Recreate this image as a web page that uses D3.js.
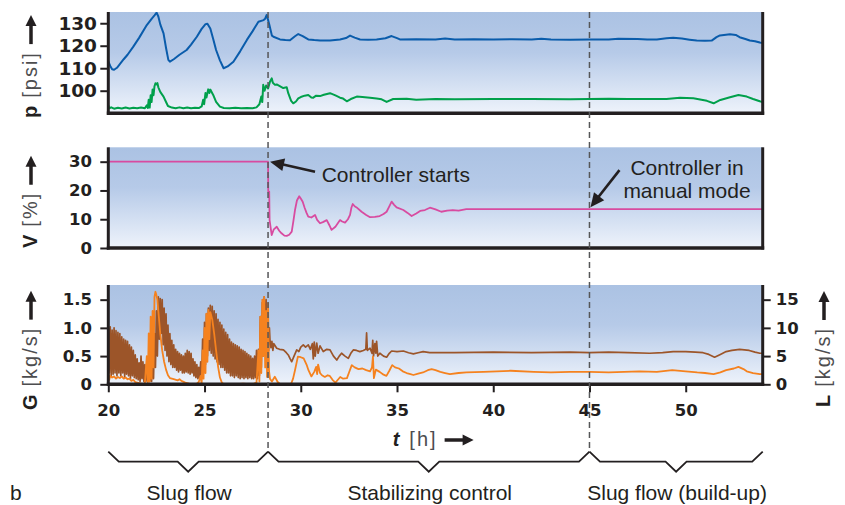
<!DOCTYPE html>
<html>
<head>
<meta charset="utf-8">
<script src="https://cdn.jsdelivr.net/npm/d3@7"></script>
<style>
  body { margin: 0; background: #fff; }
  svg { display: block; }
</style>
</head>
<body>
<svg id="chart" width="845" height="505"></svg>
<script>
// ---- data -------------------------------------------------------------
const timeTicks = [20, 25, 30, 35, 40, 45, 50];
const pressureTicks = [100, 110, 120, 130];
const valveTicks = [0, 10, 20, 30];
const gasTicks = [0, 0.5, 1.0, 1.5];
const gasTickLabels = ["0", "0.5", "1.0", "1.5"];
const liquidTicks = [0, 5, 10, 15];

const controllerStart = 28.3;   // h
const manualMode = 45;          // h

const phases = [
  { from: 20, to: controllerStart, label: "Slug flow" },
  { from: controllerStart, to: manualMode, label: "Stabilizing control" },
  { from: manualMode, to: 54, label: "Slug flow (build-up)" }
];

// upstream pressure [t (h), psi]
const pressureUpper = [
  [20.0,113],[20.1,111],[20.2,109.5],[20.3,109.3],[20.45,110.2],[20.6,111.8],[20.8,114],[21.0,116],
  [21.3,119.6],[21.6,123.5],[22.0,129.2],[22.27,132.2],[22.4,133.5],[22.51,134.7],[22.6,133],[22.7,129.5],
  [22.87,125.5],[23.0,119],[23.12,113.7],[23.2,112.9],[23.4,114],[23.7,116],[24.07,118.1],[24.3,120.5],
  [24.6,124],[24.85,127.5],[25.05,129.6],[25.15,129.8],[25.3,127.7],[25.45,123],[25.6,118.1],[25.8,113.5],
  [25.99,110.0],[26.2,110.8],[26.5,112.9],[26.85,117.5],[27.2,122.6],[27.5,126.5],[27.8,130.7],[28.07,131.4],
  [28.15,132],[28.23,133.7],[28.3,131.5],[28.37,129.2],[28.5,124.5],[28.58,124.0],[28.92,122.8],[29.2,122.5],
  [29.44,122.4],[29.7,124.2],[29.87,125.2],[30.1,124.3],[30.39,122.8],[30.7,122.5],[31.0,122.3],[31.52,122.3],
  [32.04,122.8],[32.35,123.4],[32.56,124.5],[32.8,123.6],[33.08,122.8],[33.5,122.7],[33.94,122.8],[34.4,123.3],
  [34.72,124.3],[35.0,123.4],[35.15,122.8],[36,122.9],[37,122.8],[37.5,123.2],[38,122.8],[39,122.9],
  [40,122.8],[41,122.9],[42,122.8],[42.5,123.1],[43,122.8],[44,122.7],[45,122.8],[46,122.8],[46.5,123.1],
  [47.5,123.0],[48,122.8],[48.5,122.8],[49.0,123.3],[49.35,123.6],[49.8,123.2],[50.2,122.7],[50.57,122.3],
  [51.0,122.2],[51.35,122.3],[51.6,123.8],[51.78,124.6],[52.3,125.1],[52.6,124.8],[52.8,123.8],[53.1,123.0],
  [53.33,122.3],[53.6,122.0],[53.85,121.4],[54,121.2]
];

// downstream pressure [t (h), psi]
const pressureLower = [
  [20.0,93.5],[20.05,92.2],[20.15,92.6],[20.3,92.0],[20.5,92.4],[20.7,92.1],[20.9,92.5],[21.1,92.1],
  [21.3,92.4],[21.5,92.2],[21.7,92.5],[21.9,92.2],[22.0,93.5],[22.05,92.3],[22.1,96],[22.15,92.5],
  [22.2,98],[22.25,95],[22.3,100.5],[22.35,98],[22.4,102],[22.45,103.3],[22.5,102.8],[22.55,103.4],
  [22.6,101.5],[22.7,99.5],[22.87,97.4],[23.0,95],[23.1,93.2],[23.3,92.5],[23.5,92.2],[23.7,92.6],
  [23.9,92.2],[24.1,92.5],[24.3,92.2],[24.5,92.4],[24.7,92.3],[24.85,93],[24.93,96],[24.98,94],
  [25.05,99],[25.1,97],[25.19,100.6],[25.25,99],[25.3,100.5],[25.45,98.1],[25.6,95],[25.8,92.9],
  [26.0,92.3],[26.3,92.2],[26.6,92.4],[26.9,92.2],[27.2,92.3],[27.5,92.2],[27.7,92.6],[27.85,94],
  [27.95,97.4],[28.0,95],[28.05,102.6],[28.12,100],[28.2,102.3],[28.3,101],[28.4,104],[28.49,105.5],
  [28.55,103.5],[28.66,102.6],[28.75,102.8],[29.09,101.2],[29.27,101.5],[29.35,98.9],[29.5,95.5],[29.61,94.4],
  [29.75,95.2],[29.87,96.6],[30.0,97.2],[30.2,97.8],[30.39,98.1],[30.55,97.0],[30.65,96.9],[30.8,97.8],
  [31.0,97.6],[31.2,98.2],[31.52,98.9],[31.8,97.9],[32.04,96.9],[32.2,96.5],[32.39,95.3],[32.6,96.3],
  [32.91,97.4],[33.2,97.2],[33.6,96.9],[33.94,96.5],[34.2,96.2],[34.46,95.0],[34.8,96.3],[35.5,96.4],
  [36.0,96.0],[37,96.3],[38,96.2],[40,96.3],[42,96.3],[44,96.2],[45,96.3],[46,96.4],[47,96.3],[48,96.3],
  [49.0,96.3],[49.7,96.9],[50.4,96.6],[51.1,95.5],[51.45,94.4],[51.8,95.9],[52.3,97.1],[52.74,98.1],
  [53.17,97.4],[53.5,96.3],[53.85,95.3],[54,95.0]
];

// valve opening [t (h), %]
const valveOpening = [
  [20,30],[28.3,30],[28.31,19.6],[28.36,19.6],[28.38,9.7],[28.49,4.5],[28.6,6.5],[28.75,7.4],[28.88,6.0],
  [29.0,5.1],[29.15,4.3],[29.27,4.2],[29.4,4.6],[29.53,5.7],[29.62,9.5],[29.7,13.2],[29.8,16.5],[29.92,18.0],
  [30.0,17.2],[30.1,16.1],[30.2,14.0],[30.3,12.2],[30.39,10.9],[30.55,10.6],[30.74,11.5],[30.85,9.8],
  [31.0,8.6],[31.15,9.0],[31.35,9.7],[31.48,8.0],[31.6,6.3],[31.8,7.4],[32.04,9.7],[32.15,9.2],[32.3,8.8],
  [32.45,10.0],[32.56,11.5],[32.63,14.0],[32.7,15.3],[32.8,14.5],[32.9,14.1],[33.16,12.6],[33.4,11.5],
  [33.6,10.7],[33.85,10.8],[34.1,11.1],[34.3,11.8],[34.46,12.6],[34.6,14.5],[34.72,16.1],[34.85,15.0],
  [34.98,14.1],[35.33,13.2],[35.55,12.2],[35.76,11.1],[36.0,12.0],[36.2,12.9],[36.45,13.2],[36.71,14.0],
  [37.0,13.4],[37.3,12.6],[37.6,13.0],[37.9,13.2],[38.2,13.0],[38.6,13.5],[54,13.5]
];

// gas mass flow G [kg/s] during slug flow: alternating maxima / minima every 0.1 h
const gasSlugStart = 20.0;
const gasSlugStep = 0.1;
const gasSlugHigh = [
  1.00,1.02,0.96,1.00,0.95,0.92,0.90,0.84,0.80,0.78,
  0.76,0.70,0.66,0.60,0.52,0.45,0.38,0.50,0.40,0.35,
  0.30,0.25,0.30,0.50,0.90,1.30,1.55,1.52,1.50,1.35,
  1.25,1.05,0.90,0.78,0.70,0.62,0.58,0.55,0.52,0.50,
  0.55,0.60,0.58,0.55,0.45,0.40,0.35,0.30,0.40,0.80,
  1.10,1.25,1.35,1.40,1.38,1.30,1.25,1.15,1.10,1.05,
  0.98,0.92,0.88,0.80,0.75,0.72,0.70,0.68,0.66,0.62,
  0.60,0.58,0.55,0.52,0.50,0.46,0.50,0.60,0.62,1.20,
  1.45,1.55,1.50
];
const gasSlugLow = [
  0.20,0.15,0.18,0.20,0.15,0.20,0.15,0.20,0.12,0.18,
  0.15,0.10,0.15,0.12,0.10,0.08,0.05,0.10,0.05,0.05,
  0.05,0.05,0.05,0.10,0.30,0.50,0.80,0.90,0.70,0.60,
  0.50,0.40,0.35,0.30,0.30,0.25,0.22,0.25,0.20,0.20,
  0.22,0.20,0.18,0.20,0.15,0.12,0.10,0.10,0.10,0.20,
  0.35,0.50,0.60,0.55,0.50,0.45,0.40,0.35,0.30,0.30,
  0.25,0.20,0.20,0.15,0.15,0.12,0.15,0.12,0.10,0.12,
  0.10,0.12,0.10,0.12,0.10,0.10,0.12,0.10,0.15,0.30,
  0.50,0.60,0.50
];
// gas mass flow G [t (h), kg/s] from controller start on
const gasControlled = [
  [28.3,1.25],[28.33,0.6],[28.37,1.0],[28.4,0.79],[28.45,0.65],[28.5,0.76],[28.55,0.6],[28.6,0.72],
  [28.75,0.64],[28.9,0.62],[29.1,0.61],[29.25,0.56],[29.35,0.52],[29.45,0.45],[29.53,0.40],[29.65,0.5],
  [29.79,0.61],[29.9,0.58],[30.0,0.66],[30.13,0.70],[30.25,0.66],[30.39,0.70],[30.5,0.62],[30.6,0.72],
  [30.65,0.45],[30.7,0.75],[30.75,0.5],[30.83,0.73],[30.9,0.55],[31.0,0.68],[31.17,0.58],[31.35,0.62],
  [31.52,0.61],[31.7,0.5],[31.87,0.43],[32.0,0.5],[32.12,0.55],[32.3,0.5],[32.47,0.46],[32.6,0.55],
  [32.73,0.61],[32.9,0.6],[33.07,0.58],[33.25,0.6],[33.38,0.62],[33.42,0.91],[33.46,0.6],[33.6,0.64],
  [33.7,0.55],[33.74,0.78],[33.78,0.5],[33.85,0.72],[33.9,0.55],[33.94,0.76],[34.0,0.5],[34.11,0.55],
  [34.3,0.5],[34.46,0.48],[34.6,0.55],[34.72,0.59],[35.0,0.58],[35.33,0.59],[35.6,0.56],[35.85,0.54],
  [36.1,0.56],[36.36,0.58],[36.7,0.56],[37.06,0.56],[38,0.56],[40,0.57],[42,0.56],[44,0.57],[45,0.56],
  [46,0.57],[47,0.56],[48.13,0.55],[48.8,0.56],[49.35,0.58],[50.0,0.58],[50.5,0.57],[50.9,0.56],
  [51.2,0.53],[51.5,0.48],[51.8,0.53],[52.1,0.58],[52.4,0.6],[52.8,0.62],[53.3,0.6],[53.6,0.57],
  [53.85,0.55],[54,0.55]
];

// liquid mass flow L [t (h), kg/s]
const liquidFlow = [
  [20.0,2.4],[20.05,0.8],[20.1,1.5],[20.2,1.2],[20.3,1.4],[20.4,1.0],[20.5,1.3],[20.6,1.1],[20.7,1.4],
  [20.8,1.0],[20.9,1.2],[21.0,0.9],[21.1,1.0],[21.2,0.6],[21.3,0.8],[21.4,0.4],[21.5,0.3],[21.6,0.2],
  [21.7,0.1],[21.8,0.0],[21.9,0.2],[22.0,5],[22.05,0],[22.1,9],[22.15,0.5],[22.2,12],[22.25,1],[22.3,13],
  [22.35,3],[22.4,15.5],[22.45,16.4],[22.5,15.8],[22.55,15],[22.6,13],[22.65,11],[22.7,9],[22.8,6],
  [22.9,4],[23.0,2.6],[23.1,1.6],[23.2,1.1],[23.4,0.9],[23.6,0.7],[23.7,0.9],[23.8,0.6],[24.0,0.3],
  [24.2,0.1],[24.4,0.0],[24.6,0.1],[24.7,0.4],[24.8,1.5],[24.85,0],[24.9,6],[24.95,1],[25.0,10],[25.05,2],
  [25.1,12.5],[25.15,4],[25.2,13.2],[25.25,8],[25.3,12.8],[25.4,11.5],[25.5,9],[25.6,6],[25.7,3.2],
  [25.8,1.2],[25.9,0.3],[26.0,0.0],[26.5,0.0],[27.0,0.1],[27.5,0.0],[27.7,0.3],[27.8,6],[27.85,0.5],
  [27.9,12],[27.95,2],[28.0,15],[28.05,5],[28.1,15.5],[28.15,3],[28.2,13],[28.25,1.3],[28.3,14.4],
  [28.35,2.4],[28.4,1.0],[28.5,0.5],[28.65,1.35],[28.8,0.4],[28.9,0.1],[29.2,0.0],[29.5,0.1],[29.6,1.0],
  [29.7,2.5],[29.85,4.9],[30.0,4.8],[30.15,4.6],[30.3,3.5],[30.4,2.5],[30.55,1.4],[30.7,2.2],[30.8,3.1],
  [30.85,1.8],[30.9,3.5],[31.0,2.0],[31.1,1.6],[31.25,1.3],[31.4,1.6],[31.5,1.5],[31.65,0.8],[31.8,0.3],
  [31.95,0.9],[32.05,1.3],[32.2,1.0],[32.4,1.1],[32.55,2.5],[32.65,3.4],[32.8,3.0],[33.0,2.7],[33.2,2.8],
  [33.4,2.5],[33.6,2.3],[33.7,3.0],[33.75,4.9],[33.8,1.1],[33.9,2.6],[34.1,2.2],[34.3,1.7],[34.45,1.5],
  [34.6,2.4],[34.75,3.4],[34.9,3.0],[35.1,2.8],[35.3,2.3],[35.5,2.0],[35.7,1.8],[35.85,1.65],[36.1,1.9],
  [36.35,2.1],[36.6,2.5],[36.8,2.7],[37.0,2.5],[37.25,2.2],[37.5,2.0],[37.75,1.8],[38.2,2.0],[38.6,2.1],
  [39.5,2.2],[40.9,2.4],[42.1,2.2],[43.0,2.1],[44.0,2.2],[45.0,2.2],[46.0,2.1],[47.6,2.3],[48.5,2.2],
  [49.3,2.5],[50.0,2.3],[50.6,2.1],[51.0,2.0],[51.45,1.8],[51.8,2.1],[52.1,2.5],[52.5,2.8],[52.74,3.1],
  [53.0,2.7],[53.17,2.3],[53.5,2.0],[53.85,1.8],[54,1.8]
];

// ---- layout -------------------------------------------------------------
const svg = d3.select("#chart");
const ink = "#231f20";
const sans = "'Liberation Sans', Arial, Helvetica, sans-serif";
const numFont = "'DejaVu Sans', sans-serif";

const x = d3.scaleLinear().domain([20, 54]).range([108.3, 762.7]);
const yP = d3.scaleLinear().domain([90, 135]).range([113.2, 12]);
const yV = d3.scaleLinear().domain([0, 35]).range([248, 147.3]);
const yG = d3.scaleLinear().domain([0, 1.76]).range([384.3, 285]);
const yL = d3.scaleLinear().domain([0, 17.6]).range([384.3, 285]);

const defs = svg.append("defs");
const grad = defs.append("linearGradient").attr("id", "panelFill")
  .attr("x1", 0).attr("y1", 0).attr("x2", 0).attr("y2", 1);
grad.append("stop").attr("offset", "0%").attr("stop-color", "#abc2e3");
grad.append("stop").attr("offset", "40%").attr("stop-color", "#b6cae8");
grad.append("stop").attr("offset", "100%").attr("stop-color", "#eef3fb");

const panels = [
  { id: "pPanel", y: yP },
  { id: "vPanel", y: yV },
  { id: "gPanel", y: yG }
];

panels.forEach(p => {
  const [x0, x1] = x.range();
  const [yb, yt] = p.y.range();
  svg.append("rect").attr("x", x0).attr("y", yt).attr("width", x1 - x0).attr("height", yb - yt)
    .attr("fill", "url(#panelFill)");
  defs.append("clipPath").attr("id", p.id + "Clip")
    .append("rect").attr("x", x0).attr("y", yt).attr("width", x1 - x0).attr("height", yb - yt);
});

function drawLine(data, yScale, clipId, color, width) {
  svg.append("path")
    .datum(data)
    .attr("clip-path", `url(#${clipId}Clip)`)
    .attr("fill", "none")
    .attr("stroke", color)
    .attr("stroke-width", width)
    .attr("stroke-linejoin", "round")
    .attr("d", d3.line().x(d => x(d[0])).y(d => yScale(d[1])));
}

// pressure panel
drawLine(pressureUpper, yP, "pPanel", "#0a5cab", 2);
drawLine(pressureLower, yP, "pPanel", "#00a04b", 2);

// valve panel
drawLine(valveOpening, yV, "vPanel", "#d84ba0", 1.8);

// flow panel: gas (slug part as max/min zigzag, then controlled part)
const gasSeries = [];
gasSlugHigh.forEach((hi, i) => {
  const t = gasSlugStart + i * gasSlugStep;
  gasSeries.push([t, hi]);
  gasSeries.push([t + gasSlugStep / 2, gasSlugLow[i]]);
});
gasControlled.forEach(d => gasSeries.push(d));
drawLine(gasSeries, yG, "gPanel", "#9c5529", 1.7);
drawLine(liquidFlow, yL, "gPanel", "#f5821f", 1.8);

// ---- frames and axes ---------------------------------------------------
function frame(yScale, withRight) {
  const [x0, x1] = x.range();
  const [yb, yt] = yScale.range();
  svg.append("line").attr("x1", x0).attr("x2", x0).attr("y1", yt).attr("y2", yb + 1.5)
    .attr("stroke", ink).attr("stroke-width", 3);
  svg.append("line").attr("x1", x0 - 1.5).attr("x2", x1 + 1.5).attr("y1", yb).attr("y2", yb)
    .attr("stroke", ink).attr("stroke-width", 3.5);
  if (withRight) {
    svg.append("line").attr("x1", x1).attr("x2", x1).attr("y1", yt).attr("y2", yb + 1.5)
      .attr("stroke", ink).attr("stroke-width", 3);
  }
}
frame(yP, true);
frame(yV, true);
frame(yG, true);

function styleAxis(g, size) {
  g.select(".domain").remove();
  g.selectAll(".tick line").attr("stroke", ink).attr("stroke-width", 2);
  g.selectAll(".tick text").attr("fill", ink).attr("font-family", numFont)
    .attr("font-weight", "bold").attr("font-size", size);
}

svg.append("g").attr("transform", `translate(${x.range()[0]},0)`)
  .call(d3.axisLeft(yP).tickValues(pressureTicks).tickSize(8).tickPadding(3.3))
  .call(g => styleAxis(g, 18.5));
svg.append("g").attr("transform", `translate(${x.range()[0]},0)`)
  .call(d3.axisLeft(yV).tickValues(valveTicks).tickSize(8).tickPadding(8.3))
  .call(g => styleAxis(g, 16.5));
svg.append("g").attr("transform", `translate(${x.range()[0]},0)`)
  .call(d3.axisLeft(yG).tickValues(gasTicks).tickSize(8).tickPadding(8.3)
    .tickFormat((d, i) => gasTickLabels[i]))
  .call(g => styleAxis(g, 16.5));
svg.append("g").attr("transform", `translate(${x.range()[1]},0)`)
  .call(d3.axisRight(yL).tickValues(liquidTicks).tickSize(8).tickPadding(5))
  .call(g => styleAxis(g, 16.5));
svg.append("g").attr("transform", `translate(0,${yG.range()[0]})`)
  .call(d3.axisBottom(x).tickValues(timeTicks).tickSize(8).tickPadding(12))
  .call(g => styleAxis(g, 16.5));

// ---- axis titles ---------------------------------------------------------
function arrowHead(g, tipX, tipY, len, half) {
  g.append("path")
    .attr("d", `M${tipX},${tipY} L${tipX - len},${tipY - half} L${tipX - len},${tipY + half} Z`)
    .attr("fill", ink);
}

function axisTitle(tx, ty, rotate, symbol, unit, italic) {
  const g = svg.append("g").attr("transform", `translate(${tx},${ty})` + (rotate ? " rotate(-90)" : ""));
  const text = g.append("text").attr("font-family", sans).attr("font-size", 20);
  text.append("tspan").attr("font-weight", "bold").attr("fill", ink)
    .attr("font-style", italic ? "italic" : "normal").text(symbol);
  text.append("tspan").attr("dx", italic ? 10 : 8).attr("fill", "#4d4d4f")
    .attr("letter-spacing", 2).text(unit);
  const bb = text.node().getBBox();
  const a0 = bb.x + bb.width + 7;
  const a1 = a0 + 29;
  g.append("line").attr("x1", a0).attr("x2", a1 - 8).attr("y1", -6).attr("y2", -6)
    .attr("stroke", ink).attr("stroke-width", 3.5);
  arrowHead(g, a1, -6, 11, 5.5);
}

axisTitle(37, 118, true, "p", "[psi]");
axisTitle(37, 248, true, "V", "[%]");
axisTitle(37, 410, true, "G", "[kg/s]");
axisTitle(830, 407, true, "L", "[kg/s]");
axisTitle(392.7, 446, false, "t", "[h]", true);

// ---- events: controller start / manual mode -----------------------------
[controllerStart, manualMode].forEach(t => {
  svg.append("line").attr("x1", x(t)).attr("x2", x(t)).attr("y1", yP.range()[1]).attr("y2", 451.7)
    .attr("stroke", "#555658").attr("stroke-width", 1.5).attr("stroke-dasharray", "6,4");
});

function pointer(x1, y1, x2, y2) {
  const ang = Math.atan2(y2 - y1, x2 - x1) * 180 / Math.PI;
  const len = Math.hypot(x2 - x1, y2 - y1);
  const g = svg.append("g").attr("transform", `translate(${x1},${y1}) rotate(${ang})`);
  g.append("line").attr("x1", 0).attr("y1", 0).attr("x2", len - 10).attr("y2", 0)
    .attr("stroke", ink).attr("stroke-width", 2.6);
  arrowHead(g, len, 0, 14, 6.5);
}

const startTip = [x(controllerStart) + 2, yV(30)];
pointer(startTip[0] + 45, startTip[1] + 10, startTip[0], startTip[1]);
svg.append("text").attr("x", 321.7).attr("y", 181.5).attr("font-family", sans).attr("font-size", 21)
  .attr("fill", ink).text("Controller starts");

const manualTip = [x(manualMode) + 1, yV(13.5) - 2];
pointer(manualTip[0] + 29, manualTip[1] - 37, manualTip[0], manualTip[1]);
const manualText = svg.append("text").attr("font-family", sans).attr("font-size", 21)
  .attr("fill", ink).attr("text-anchor", "middle");
manualText.append("tspan").attr("x", 687).attr("y", 174.5).text("Controller in");
manualText.append("tspan").attr("x", 687).attr("y", 197.5).text("manual mode");

// ---- phase braces --------------------------------------------------------
phases.forEach(p => {
  const x0 = x(p.from), x1 = x(p.to), xm = (x0 + x1) / 2;
  const yTop = 451.7, yMid = 461.7, yTip = 471.7, c = 10.5;
  svg.append("path")
    .attr("d", `M${x0},${yTop} L${x0 + c},${yMid} L${xm - c},${yMid} L${xm},${yTip} L${xm + c},${yMid} L${x1 - c},${yMid} L${x1},${yTop}`)
    .attr("fill", "none").attr("stroke", ink).attr("stroke-width", 1.8).attr("stroke-linejoin", "miter");
  svg.append("text").attr("x", xm + 1).attr("y", 500).attr("text-anchor", "middle")
    .attr("font-family", sans).attr("font-size", 21).attr("fill", ink).text(p.label);
});

svg.append("text").attr("x", 10).attr("y", 500).attr("font-family", sans).attr("font-size", 21)
  .attr("fill", ink).text("b");
</script>
</body>
</html>
